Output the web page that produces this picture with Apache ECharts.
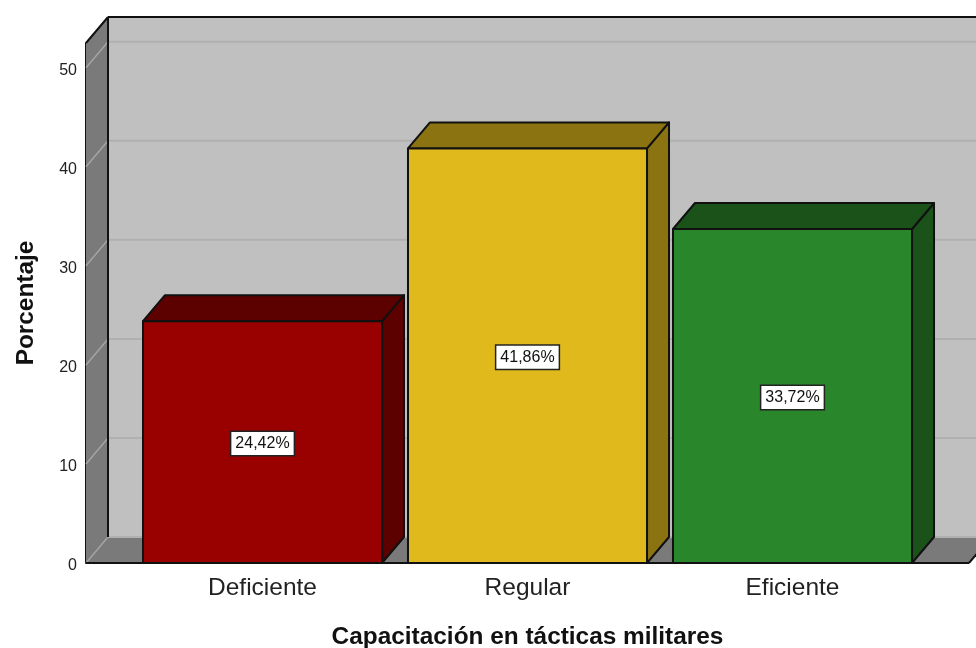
<!DOCTYPE html>
<html>
<head>
<meta charset="utf-8">
<style>html,body{margin:0;padding:0;background:#fff}#c{width:976px;height:648px}</style>
<script src="https://cdn.jsdelivr.net/npm/echarts@6/dist/echarts.min.js"></script>
</head>
<body>
<div id="c"></div>
<script>
const categories = ['Deficiente', 'Regular', 'Eficiente'];
const values = [24.42, 41.86, 33.72];
const frontColors = ['#990000', '#e0ba1c', '#29862a'];
const sideColors = ['#5c0000', '#8b7311', '#1a5219'];
const yTicks = [0, 10, 20, 30, 40, 50];
const yMax = 52.5;
const DX = 22, DY = 26;
const WALL_OUT = 44;
const EDGE = '#111';
const EDGE_W = 2;

function poly(points, fill, stroke, w) {
  return {
    type: 'polygon',
    shape: { points: points },
    style: { fill: fill, stroke: stroke || null, lineWidth: w || 0, lineJoin: 'round' }
  };
}
function line(x1, y1, x2, y2, color, w) {
  return {
    type: 'line',
    shape: { x1: x1, y1: y1, x2: x2, y2: y2 },
    style: { stroke: color, lineWidth: w, fill: null }
  };
}

function renderWalls(params, api) {
  const cs = params.coordSys;
  const L = cs.x - WALL_OUT, R = cs.x + cs.width + WALL_OUT;
  const B = cs.y + cs.height, T = cs.y;
  const kids = [];
  kids.push(poly([[L + DX, T - DY], [R + DX, T - DY], [R + DX, B - DY], [L + DX, B - DY]], '#c0c0c0'));
  kids.push(poly([[L, T], [L + DX, T - DY], [L + DX, B - DY], [L, B]], '#7a7a7a'));
  kids.push(poly([[L, B], [L + DX, B - DY], [R + DX, B - DY], [R, B]], '#7a7a7a'));
  yTicks.forEach(function (t) {
    const y = api.coord([0, t])[1];
    kids.push(line(L + DX, y - DY, R + DX, y - DY, '#b0b0b0', 2));
    kids.push(line(L, y, L + DX, y - DY, '#a4a4a4', 1.5));
  });
  kids.push(line(L + DX, T - DY, R + DX, T - DY, EDGE, EDGE_W));
  kids.push(line(L + DX, T - DY, L + DX, B - DY, EDGE, EDGE_W));
  kids.push(line(L, T, L + DX, T - DY, EDGE, EDGE_W));
  kids.push(line(L, B, R, B, EDGE, EDGE_W));
  kids.push(line(R, B, R + DX, B - DY, EDGE, EDGE_W));
  return { type: 'group', children: kids };
}

function renderBar(params, api) {
  const i = api.value(0), v = api.value(1);
  const top = api.coord([i, v]);
  const base = api.coord([i, 0]);
  const w = api.size([1, 0])[0] * 0.902;
  const x0 = top[0] - w / 2, x1 = top[0] + w / 2, y0 = top[1], y1 = base[1];
  const label = v.toFixed(2).replace('.', ',') + '%';
  return {
    type: 'group',
    children: [
      poly([[x1, y0], [x1 + DX, y0 - DY], [x1 + DX, y1 - DY], [x1, y1]], sideColors[i], EDGE, EDGE_W),
      poly([[x0, y0], [x0 + DX, y0 - DY], [x1 + DX, y0 - DY], [x1, y0]], sideColors[i], EDGE, EDGE_W),
      poly([[x0, y0], [x1, y0], [x1, y1], [x0, y1]], frontColors[i], EDGE, EDGE_W),
      {
        type: 'text',
        x: top[0],
        y: (y0 + y1) / 2 + 1.5,
        style: {
          text: label,
          x: 0, y: 0,
          align: 'center',
          verticalAlign: 'middle',
          fill: '#111',
          font: '16px "Liberation Sans", Arial, sans-serif',
          backgroundColor: '#fff',
          borderColor: '#222',
          borderWidth: 1.5,
          padding: [3, 4, 4, 4]
        }
      }
    ]
  };
}

const chart = echarts.init(document.getElementById('c'), null, { renderer: 'canvas' });
chart.setOption({
  animation: false,
  backgroundColor: '#fff',
  textStyle: { fontFamily: '"Liberation Sans", Arial, sans-serif' },
  grid: { left: 130, right: 51, top: 43, bottom: 85, outerBoundsMode: 'none' },
  xAxis: {
    type: 'category',
    data: categories,
    boundaryGap: true,
    name: 'Capacitación en tácticas militares',
    nameLocation: 'middle',
    nameGap: 62,
    nameTextStyle: { fontSize: 24.4, fontWeight: 'bold', color: '#111' },
    axisLine: { show: false },
    axisTick: { show: false },
    splitLine: { show: false },
    axisLabel: { fontSize: 24.5, color: '#222', margin: 13, interval: 0 }
  },
  yAxis: {
    type: 'value',
    min: 0,
    max: yMax,
    interval: 10,
    offset: 44,
    name: 'Porcentaje',
    nameLocation: 'middle',
    nameGap: 48,
    nameTextStyle: { fontSize: 24.4, fontWeight: 'bold', color: '#111' },
    axisLine: { show: true, lineStyle: { color: EDGE, width: 2 } },
    axisTick: { show: false },
    splitLine: { show: false },
    axisLabel: { fontSize: 16, color: '#222', margin: 9, showMaxLabel: false, verticalAlign: 'top', lineHeight: 5 }
  },
  series: [
    { type: 'custom', clip: false, silent: true, z: 1, renderItem: renderWalls, data: [[0, 0]], encode: { x: 0, y: 1 } },
    { type: 'custom', clip: false, silent: true, z: 2, renderItem: renderBar,
      data: values.map(function (v, i) { return [i, v]; }), encode: { x: 0, y: 1 } }
  ]
});
</script>
</body>
</html>
